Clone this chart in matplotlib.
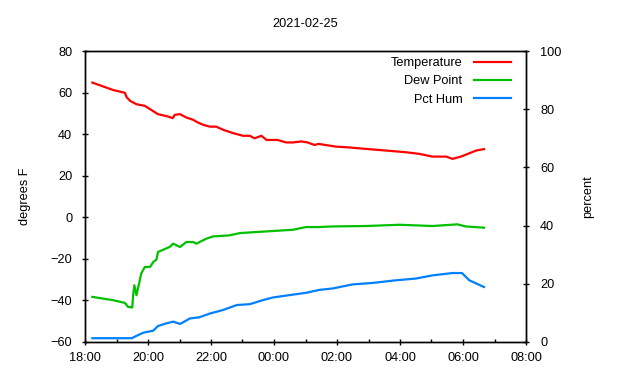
import datetime as dt
import matplotlib
matplotlib.use("Agg")
import matplotlib.pyplot as plt
import matplotlib.dates as mdates

# readings, evening of 2021-02-24 into morning of 2021-02-25
temp_times = ["18:14", "18:54", "19:16", "19:19", "19:26", "19:38", "19:54", "20:04",
              "20:19", "20:38", "20:47", "20:51", "21:01", "21:13", "21:26", "21:35",
              "21:45", "21:58", "22:10", "22:23", "22:42", "23:01", "23:14", "23:23",
              "23:36", "23:46", "00:07", "00:23", "00:36", "00:52", "01:04", "01:17",
              "01:25", "01:58", "02:23", "02:55", "03:34", "04:11", "04:37", "05:02",
              "05:28", "05:40", "05:56", "06:12", "06:25", "06:40"]
temp_vals = [64.8, 61.2, 59.9, 57.9, 56.0, 54.4, 53.6, 52.0,
             49.6, 48.5, 47.7, 49.3, 49.6, 48.0, 46.9, 45.6,
             44.5, 43.6, 43.6, 42.1, 40.5, 39.2, 39.2, 38.0,
             39.2, 37.2, 37.2, 36.0, 36.0, 36.5, 36.0, 34.8,
             35.3, 34.0, 33.6, 32.9, 32.1, 31.3, 30.5, 29.2,
             29.2, 28.1, 29.2, 30.8, 32.1, 32.8]

dew_times = ["18:14", "18:54", "19:16", "19:22", "19:30", "19:32", "19:34", "19:38",
             "19:43", "19:47", "19:54", "20:04", "20:10", "20:16", "20:19", "20:29",
             "20:41", "20:48", "21:01", "21:13", "21:26", "21:32", "21:51", "22:04",
             "22:35", "22:55", "23:26", "23:58", "00:36", "01:01", "01:25", "01:52",
             "02:55", "03:59", "05:02", "05:49", "06:05", "06:40"]
dew_vals = [-38.3, -39.9, -41.2, -43.1, -43.4, -36.7, -32.7, -37.5,
            -31.9, -27.1, -23.9, -23.9, -21.5, -20.4, -16.7, -15.6,
            -14.3, -12.7, -14.3, -11.9, -11.9, -12.7, -10.3, -9.2,
            -8.7, -7.6, -7.1, -6.6, -6.0, -4.7, -4.7, -4.4,
            -4.2, -3.6, -4.2, -3.4, -4.4, -5.0]

hum_times = ["18:14", "19:29", "19:38", "19:51", "20:10", "20:19", "20:35", "20:48",
             "21:01", "21:20", "21:38", "21:58", "22:23", "22:49", "23:14", "23:39",
             "23:58", "00:29", "01:01", "01:26", "01:52", "02:30", "03:08", "03:52",
             "04:30", "05:02", "05:40", "05:58", "06:12", "06:40"]
hum_vals = [1.3, 1.3, 2.1, 3.2, 3.9, 5.5, 6.4, 7.0,
            6.2, 8.1, 8.5, 9.8, 11.0, 12.7, 13.0, 14.4,
            15.3, 16.1, 16.9, 17.9, 18.4, 19.8, 20.3, 21.2,
            21.8, 22.9, 23.7, 23.7, 21.2, 18.9]


def to_dt(hhmm):
    # times before noon belong to the next day
    h, m = map(int, hhmm.split(":"))
    day = 25 if h < 12 else 24
    return dt.datetime(2021, 2, day, h, m)


plt.rcParams['font.family'] = ['Liberation Sans', 'DejaVu Sans']
plt.rcParams['font.size'] = 9.2

fig = plt.figure(figsize=(6.4, 3.8), dpi=100)
ax = fig.add_axes([85/640, 38/380, 441/640, 291/380])
ax2 = ax.twinx()

l1, = ax.plot([to_dt(t) for t in temp_times], temp_vals, color='#ff0000', lw=1.6)
l2, = ax.plot([to_dt(t) for t in dew_times], dew_vals, color='#00c000', lw=1.6)
l3, = ax2.plot([to_dt(t) for t in hum_times], hum_vals, color='#0080ff', lw=1.6)

ax.set_xlim(dt.datetime(2021, 2, 24, 18, 0), dt.datetime(2021, 2, 25, 8, 0))
ax.set_ylim(-60, 80)
ax2.set_ylim(0, 100)
ax.set_yticks(range(-60, 81, 20))
ax2.set_yticks(range(0, 101, 20))
ax.xaxis.set_major_locator(mdates.HourLocator(byhour=range(0, 24, 2)))
ax.xaxis.set_minor_locator(mdates.HourLocator(byhour=range(1, 24, 2)))
ax.xaxis.set_major_formatter(mdates.DateFormatter('%H:%M'))

for a in (ax, ax2):
    for s in a.spines.values():
        s.set_linewidth(1.0)
ax.tick_params(axis='both', which='major', direction='inout', length=4.5, width=1.0, pad=7)
ax.tick_params(axis='x', which='major', pad=5)
ax.tick_params(axis='x', which='minor', direction='in', length=2.5, width=1.0)
ax2.tick_params(axis='y', which='major', direction='inout', length=4.5, width=1.0, pad=8)

ax.set_ylabel('degrees F', labelpad=14)
ax2.set_ylabel('percent', labelpad=15)
fig.text(305/640, 1 - 24/380, '2021-02-25', ha='center', va='center', fontsize=9.2)

ax.legend([l1, l2, l3], ['Temperature', 'Dew Point', 'Pct Hum'], loc='upper right',
          bbox_to_anchor=(511/640, 1 - 57/380), bbox_transform=fig.transFigure,
          frameon=False, markerfirst=False, borderpad=0, borderaxespad=0,
          handlelength=2.9, handletextpad=0.9, labelspacing=0.5)

fig.savefig('out.png', dpi=100)
